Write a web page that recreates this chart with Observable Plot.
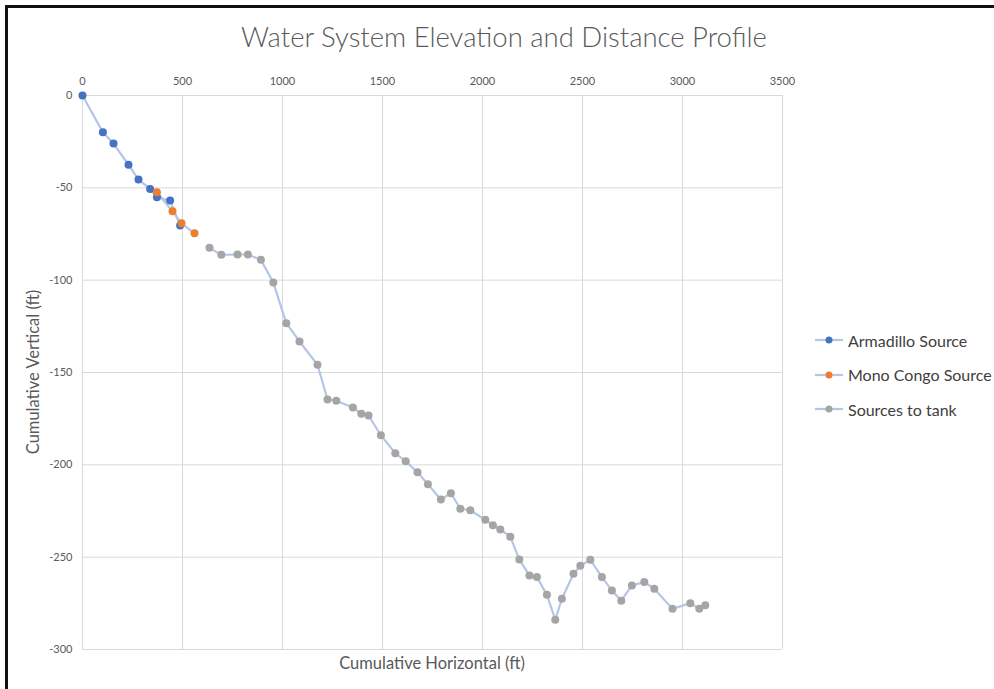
<!DOCTYPE html>
<html><head><meta charset="utf-8">
<script src="https://cdn.jsdelivr.net/npm/d3@7"></script>
<script src="https://cdn.jsdelivr.net/npm/@observablehq/plot@0.6"></script>
<style>
body{margin:0;background:#fff;font-family:Lato,"Open Sans",sans-serif;}
#wrap{position:relative;width:994px;height:689px;overflow:hidden;background:#fff;}
#frame{position:absolute;left:5px;top:5px;width:1000px;height:700px;border-left:3px solid #111;border-top:3px solid #111;pointer-events:none;}
#title{position:absolute;left:0;width:1008px;top:20px;text-align:center;font-size:27.5px;color:#595959;font-weight:300;}
#xlab{position:absolute;left:82px;width:700px;top:653px;text-align:center;font-size:16.5px;color:#595959;}
#ylab{position:absolute;left:33px;top:372px;transform:translate(-50%,-50%) rotate(-90deg);font-size:16.5px;color:#595959;white-space:nowrap;}
#legend{position:absolute;left:814px;top:323px;font-size:16px;color:#404040;}
.li{display:flex;align-items:center;height:34.5px;}
.li svg{margin-right:4px;}
#chart{position:absolute;left:0;top:0;}
</style></head>
<body>
<div id="wrap">
<div id="chart"></div>
<div id="title">Water System Elevation and Distance Profile</div>
<div id="xlab">Cumulative Horizontal (ft)</div>
<div id="ylab">Cumulative Vertical (ft)</div>
<div id="legend"></div>
<div id="frame"></div>
</div>
<script>
const seriesNames = ["Armadillo Source", "Mono Congo Source", "Sources to tank"];
const seriesColors = ["#4472C4", "#ED7D31", "#A5A5A5"];
const lineColor = "#b4c6e7";

const armadilloX = [0, 102, 155, 230, 280, 338, 372, 438, 488];
const armadilloY = [0, -19.9, -26, -37.5, -45.5, -50.6, -55.1, -56.9, -70.4];

const monoCongoX = [372, 450, 495, 560];
const monoCongoY = [-52.4, -62.7, -69.2, -74.6];

const tankX = [635, 694, 775, 827, 892, 954, 1019, 1085, 1175, 1225, 1269, 1352, 1394, 1430, 1492, 1564, 1616, 1675, 1727, 1792, 1842, 1889, 1939, 2014, 2052, 2089, 2139, 2184, 2235, 2272, 2322, 2364, 2397, 2455, 2489, 2539, 2597, 2647, 2694, 2747, 2809, 2859, 2950, 3039, 3084, 3114];
const tankY = [-82.5, -86.3, -86.1, -86.1, -89.0, -101.3, -123.3, -133.2, -145.8, -164.6, -165.3, -169, -172.4, -173.3, -184, -193.7, -198.1, -204, -210.5, -218.8, -215.4, -223.8, -224.6, -229.8, -232.7, -235, -238.9, -251.3, -259.9, -260.8, -270.4, -283.9, -272.5, -259, -254.7, -251.4, -260.8, -268, -273.6, -265.3, -263.5, -267.1, -278, -274.9, -278, -276];

const xTicks = [0, 500, 1000, 1500, 2000, 2500, 3000, 3500];
const yTicks = [0, -50, -100, -150, -200, -250, -300];

const toRows = (xs, ys, s) => xs.map((x, i) => ({x, y: ys[i], s}));
const sets = [toRows(armadilloX, armadilloY, 0), toRows(monoCongoX, monoCongoY, 1), toRows(tankX, tankY, 2)];

const marks = [
  Plot.gridX(xTicks, {stroke: "#d9d9d9", strokeOpacity: 1, strokeWidth: 1}),
  Plot.gridY(yTicks, {stroke: "#d9d9d9", strokeOpacity: 1, strokeWidth: 1}),
  Plot.axisX(xTicks, {anchor: "top", tickSize: 0, tickPadding: 11, label: null, fontSize: 11, color: "#595959", tickFormat: d => String(d)}),
  Plot.axisY(yTicks, {anchor: "left", tickSize: 0, tickPadding: 10, label: null, fontSize: 11, color: "#595959", tickFormat: d => String(d)})
];
sets.forEach((rows) => {
  marks.push(Plot.line(rows, {x: "x", y: "y", stroke: lineColor, strokeWidth: 2.2}));
});
sets.forEach((rows, i) => {
  marks.push(Plot.dot(rows, {x: "x", y: "y", r: 4, fill: seriesColors[i], stroke: "none"}));
});

const chart = Plot.plot({
  width: 994, height: 689,
  marginLeft: 82, marginRight: 212, marginTop: 95, marginBottom: 40,
  x: {domain: [0, 3500]},
  y: {domain: [-300, 0]},
  style: {fontFamily: "Lato, 'Open Sans', sans-serif", background: "transparent", color: "#595959"},
  marks
});
document.getElementById("chart").appendChild(chart);

const leg = document.getElementById("legend");
seriesNames.forEach((name, i) => {
  const div = document.createElement("div");
  div.className = "li";
  div.innerHTML = `<svg width="30" height="10"><line x1="1" x2="29" y1="5" y2="5" stroke="${lineColor}" stroke-width="2.2"/><circle cx="15" cy="5" r="3.5" fill="${seriesColors[i]}"/></svg><span>${name}</span>`;
  leg.appendChild(div);
});
</script>
</body></html>
